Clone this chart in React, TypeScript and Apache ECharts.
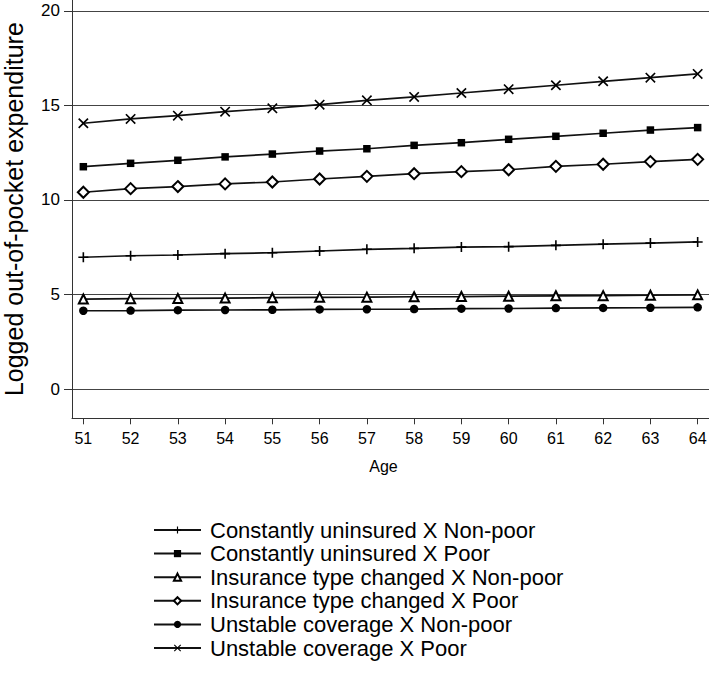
import React, { useEffect, useRef } from "react";
import * as echarts from "echarts";

const ages = [51, 52, 53, 54, 55, 56, 57, 58, 59, 60, 61, 62, 63, 64];
const yTicks = [0, 5, 10, 15, 20];

const seriesNames = [
  "Constantly uninsured X Non-poor",
  "Constantly uninsured X Poor",
  "Insurance type changed X Non-poor",
  "Insurance type changed X Poor",
  "Unstable coverage X Non-poor",
  "Unstable coverage X Poor",
];

const uninsuredNonPoor = [6.97, 7.05, 7.09, 7.16, 7.21, 7.3, 7.39, 7.44, 7.51, 7.53, 7.6, 7.66, 7.72, 7.78];
const uninsuredPoor = [11.76, 11.94, 12.1, 12.28, 12.43, 12.59, 12.71, 12.89, 13.03, 13.21, 13.37, 13.53, 13.7, 13.83];
const typeChangedNonPoor = [4.76, 4.78, 4.79, 4.81, 4.83, 4.85, 4.86, 4.88, 4.89, 4.91, 4.93, 4.94, 4.96, 4.98];
const typeChangedPoor = [10.41, 10.6, 10.71, 10.85, 10.95, 11.11, 11.25, 11.39, 11.5, 11.6, 11.78, 11.89, 12.03, 12.15];
const unstableNonPoor = [4.14, 4.15, 4.17, 4.18, 4.19, 4.21, 4.22, 4.23, 4.25, 4.26, 4.28, 4.29, 4.3, 4.32];
const unstablePoor = [14.06, 14.29, 14.46, 14.67, 14.85, 15.04, 15.27, 15.45, 15.66, 15.86, 16.07, 16.28, 16.47, 16.67];

const PLUS = "path://M4.2,0H5.8V4.2H10V5.8H5.8V10H4.2V5.8H0V4.2H4.2Z";
const CROSS = "path://M0,1.1L1.1,0L5,3.9L8.9,0L10,1.1L6.1,5L10,8.9L8.9,10L5,6.1L1.1,10L0,8.9L3.9,5Z";

const FONT = "'Liberation Sans', Arial, Helvetica, sans-serif";

export default function App() {
  const ref = useRef<HTMLDivElement>(null);

  useEffect(() => {
    if (!ref.current) return;
    const chart = echarts.init(ref.current, null, { renderer: "svg" });

    const allData = [uninsuredNonPoor, uninsuredPoor, typeChangedNonPoor, typeChangedPoor, unstableNonPoor, unstablePoor];
    const symbols = [PLUS, "rect", "emptyTriangle", "emptyDiamond", "circle", CROSS];
    const sizes = [10, 7.5, 9, 11, 8.5, 10.5];
    const borders = [0, 0, 1.4, 1.4, 0, 0];

    const series = allData.map((vals, i) => ({
      name: seriesNames[i],
      type: "line",
      data: vals.map((v, j) => [ages[j], v]),
      symbol: symbols[i],
      symbolSize: sizes[i],
      showAllSymbol: true,
      lineStyle: { color: "#111", width: 1.7 },
      itemStyle: { color: "#000", borderColor: "#000", borderWidth: borders[i] },
      emphasis: { disabled: true },
      z: 3,
    }));

    chart.setOption({
      animation: false,
      backgroundColor: "#fff",
      textStyle: { fontFamily: FONT },
      grid: { left: 72, right: 0, top: 0, bottom: 255.7, containLabel: false, outerBoundsMode: "none" },
      legend: {
        orient: "vertical",
        left: 153,
        top: 519,
        itemWidth: 47,
        itemHeight: 9,
        itemGap: 1.6,
        padding: 0,
        data: seriesNames,
        textStyle: { fontSize: 22, color: "#000", lineHeight: 22, fontFamily: FONT, padding: [0, 0, 0, 4] },
      },
      xAxis: {
        type: "value",
        min: 50.76,
        max: 64.24,
        name: "Age",
        nameLocation: "middle",
        nameGap: 40,
        nameTextStyle: { fontSize: 16, color: "#000", fontFamily: FONT, padding: [0, 14, 0, 0] },
        axisLine: { show: true, onZero: false, lineStyle: { color: "#333", width: 1 } },
        axisTick: { show: true, length: 6, lineStyle: { color: "#333" }, customValues: ages },
        axisLabel: { fontSize: 16, color: "#000", margin: 12, customValues: ages, fontFamily: FONT },
        splitLine: { show: false },
      },
      yAxis: {
        type: "value",
        min: -1.55,
        max: 20.58,
        name: "Logged out-of-pocket expenditure",
        nameLocation: "middle",
        nameGap: 46,
        nameTextStyle: { fontSize: 25, color: "#000", fontFamily: FONT },
        axisLine: { show: true, onZero: false, lineStyle: { color: "#333", width: 1 } },
        axisTick: { show: true, length: 8, lineStyle: { color: "#333" }, customValues: yTicks },
        axisLabel: { fontSize: 17, color: "#000", margin: 12, customValues: yTicks, fontFamily: FONT },
        splitLine: { show: true, lineStyle: { color: "#444", width: 1 } },
      },
      series,
    });

    return () => chart.dispose();
  }, []);

  return (
    <div
      ref={ref}
      style={{ position: "fixed", left: 0, top: 0, width: 709, height: 674 }}
    />
  );
}
